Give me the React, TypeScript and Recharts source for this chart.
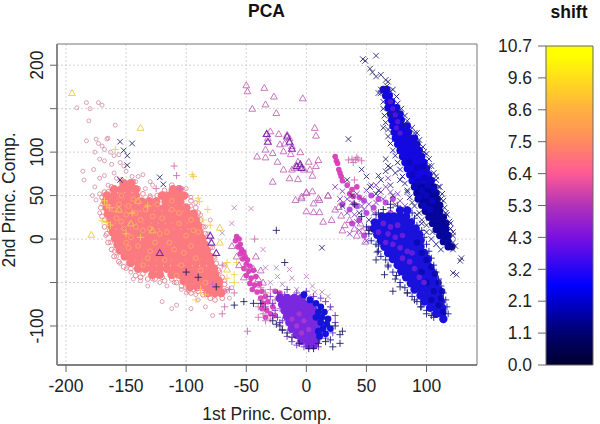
import { Bar, BarChart, CartesianGrid, ReferenceArea, Scatter, ScatterChart, XAxis, YAxis } from "recharts";

type Pair = [number, number];
type Row = [number, number[]];

const xTicks = [-200, -150, -100, -50, 0, 50, 100];
const yTicks = [-100, -50, 0, 50, 100, 150, 200];
const hiddenYLabels = [-50, 150];
const shiftTicks = [0, 1.07, 2.14, 3.21, 4.28, 5.35, 6.42, 7.49, 8.56, 9.63, 10.7];

// outliers and fringe of the big salmon cloud
const paleCircles: Pair[] = [
  [-191, 151], [-183, 157], [-180, 150], [-173, 157], [-170, 154], [-181, 136], [-159, 131], [-183, 113], [-175, 115], [-166, 115], [-165, 116],
  [-173, 110], [-170, 107], [-168, 103], [-176, 100], [-163, 100], [-160, 96], [-156, 97], [-172, 92], [-168, 90], [-162, 86], [-155, 88], [-152, 84],
  [-186, 78], [-177, 80], [-185, 68], [-172, 70], [-176, 60], [-168, 73], [-160, 76], [-150, 78], [-145, 72], [-142, 66], [-140, 72],
  [-175, 45], [-178, 50], [-172, 52], [-172, 30], [-168, 22], [-164, 10], [-167, 4], [-163, -4], [-160, -14], [-158, -20], [-155, -28], [-150, -34],
  [-146, -38], [-144, -46], [-138, -48], [-132, -54], [-128, -46], [-122, -50], [-116, -54], [-110, -50], [-104, -58], [-98, -60], [-92, -64], [-120, -72],
  [-112, -80], [-108, -76], [-96, -80], [-84, -78], [-78, -88], [-100, -62], [-90, -70], [-72, -62], [-66, -58], [-68, -48], [-72, -38], [-68, -30],
  [-76, -22], [-78, -10], [-82, 6], [-84, 14], [-92, 30], [-96, 38], [-118, 52], [-128, 62], [-134, 58], [-130, 50], [-136, 74], [-130, 66],
  [-100, 58], [-96, 48], [-92, 42], [-88, 28], [-80, 22], [-150, 64], [-158, 70], [-165, 62], [-170, 40], [-165, 55], [-74, -48], [-62, -56], [-64, -68],
];

const coreFringe: Pair[] = [
  [-170, 48], [-171, 36], [-170, 26], [-168, 14], [-166, 6], [-165, -4], [-162, -12], [-160, -20], [-156, -26], [-152, -32], [-146, -34], [-142, -42], [-136, -40],
  [-132, -46], [-126, -46], [-118, -48], [-112, -46], [-108, -50], [-104, -54], [-100, -56], [-96, -62], [-90, -60], [-86, -64], [-80, -68], [-76, -70], [-70, -68],
  [-68, -60], [-68, -52], [-70, -44], [-73, -36], [-75, -28], [-77, -20], [-80, -10], [-82, -2], [-84, 6], [-86, 14], [-88, 22], [-90, 30], [-92, 36], [-96, 44],
  [-100, 50], [-104, 58], [-112, 62], [-118, 56], [-124, 50], [-130, 48], [-136, 52], [-140, 58], [-144, 66], [-154, 68], [-162, 60], [-168, 54],
  [-158, -8], [-148, -28], [-138, -44], [-120, -44], [-94, -58], [-78, -62], [-74, -60], [-72, -54],
];

const coreRows: Row[] = [
  [64, [-152, -146]],
  [57, [-160, -154, -148, -142, -111, -106]],
  [50, [-166, -160, -154, -148, -142, -120, -114, -108, -102]],
  [43, [-167, -161, -155, -149, -143, -137, -131, -125, -117, -111, -105]],
  [36, [-166, -160, -154, -148, -142, -136, -130, -124, -118, -112, -106, -100]],
  [29, [-165, -159, -153, -147, -141, -135, -129, -123, -117, -111, -105, -99, -94]],
  [22, [-163, -157, -151, -145, -139, -133, -127, -121, -115, -109, -103, -97, -92]],
  [15, [-162, -156, -150, -144, -138, -132, -126, -120, -114, -108, -102, -96, -90]],
  [8, [-161, -155, -149, -143, -137, -131, -125, -119, -113, -107, -101, -95, -89]],
  [1, [-159, -153, -147, -141, -135, -129, -123, -117, -111, -105, -99, -93, -87]],
  [-6, [-157, -151, -145, -139, -133, -127, -121, -115, -109, -103, -97, -91, -85]],
  [-13, [-155, -149, -143, -137, -131, -125, -119, -113, -107, -101, -95, -89, -83]],
  [-20, [-151, -145, -139, -133, -127, -121, -115, -109, -103, -97, -91, -85, -81]],
  [-27, [-146, -140, -134, -128, -122, -116, -110, -104, -98, -92, -86, -80]],
  [-34, [-140, -134, -128, -122, -116, -110, -104, -98, -92, -86, -80, -77]],
  [-41, [-128, -122, -112, -106, -100, -94, -88, -82, -76]],
  [-48, [-102, -96, -90, -84, -78, -73]],
  [-55, [-97, -91, -85, -79, -73]],
  [-62, [-82, -76, -71]],
];

const orangeCircles: Pair[] = [
  [-156, 40], [-150, 28], [-144, 46], [-138, 22], [-152, 12], [-146, 2], [-134, 34], [-130, 12], [-140, -8], [-126, -4], [-120, 24], [-116, 8],
  [-112, 34], [-106, 18], [-100, 4], [-110, -12], [-96, -8], [-118, -24], [-104, -30], [-92, -22], [-88, -36], [-132, -22], [-148, -10], [-124, 40],
  [-142, 14], [-108, -42], [-96, 22], [-128, 26], [-158, 24], [-136, -30], [-84, -50], [-154, 50], [-112, 44], [-90, 8],
  [-160, 34], [-154, 20], [-148, 38], [-142, 30], [-136, 10], [-122, 6], [-114, -4], [-102, -16], [-94, 10], [-130, -14], [-150, -4], [-106, 30],
];

const yellowPlus: Pair[] = [
  [-159, 103], [-95, 74], [-94, 72], [-90, 47], [-89, 43], [-82, 34], [-86, 22], [-80, 16], [-66, -27], [-58, -27], [-60, -41], [-60, -50], [-66, -45],
  [-166, 39], [-168, 44], [-164, 36], [-166, 19], [-170, 21], [-163, 16], [-145, 30], [-132, 38], [-150, 6], [-138, 2], [-84, -64], [-92, -70], [-88, -58],
];

const yellowTriangles: Pair[] = [
  [-195, 168], [-179, 5], [-72, 13], [-72, -4], [-156, 34], [-140, 44], [-128, 10], [-146, 18], [-66, -35], [-138, 128],
];

const roseCrosses: Pair[] = [
  [-60, 36], [-46, 35], [-62, 18], [-70, 7], [-67, -60], [-36, -12], [-34, -33], [-25, -33], [-14, -35], [-24, -43], [-12, -45], [0, -43],
  [5, -54], [7, -61], [13, -61], [18, -66], [20, -80], [-30, -50], [-20, -52], [-8, -58], [2, -66],
];

const rosePlus: Pair[] = [
  [-110, 84], [-108, 73], [-125, 58], [-105, 58], [-70, -30], [-78, -52], [-50, -34], [-43, 0], [-49, -106], [-60, -62], [-64, -58], [-68, -78], [-70, -86],
  [35, 91], [38, 92], [41, 91], [43, 92], [46, 90], [39, 88], [42, 94], [40, 68],
  [-38, -56], [-34, -62], [-30, -58], [-38, -70], [-40, -78], [-36, -86], [-30, -92], [-26, -70], [-22, -80], [-40, -90], [-34, -94],
];

const navyCrosses: Pair[] = [
  [-155, 112], [-145, 110], [-152, 102], [-149, 96], [-149, 85], [-155, 68], [-122, 71], [-119, 63], [13, -10],
  [47, 207], [49, 205], [58, 211], [53, 196], [55, 192], [58, 187], [62, 189], [66, 183], [68, 181], [60, 168], [62, 172], [70, 170], [67, 176], [76, 146], [70, 143],
  [64, 128], [82, 132], [86, 120], [92, 110], [66, 92], [70, 82], [74, 76], [78, 68], [84, 54], [88, 42], [94, 30], [112, 46], [116, 30], [120, 18], [122, 8],
  [124, -8], [122, -12], [128, -25], [129, -22], [122, -39], [125, -41], [105, 8], [100, 16], [96, 22], [110, 60], [108, 72], [102, 84], [98, 100], [92, 122],
  [53, 60], [58, 52], [62, 68], [70, 62], [50, 72], [46, 80], [38, 50], [30, 38], [44, 30], [52, 22], [60, 56], [72, 50],
  [35, 115], [34, 68], [60, 73], [66, 78], [68, 84],
];

const streakEdge: Pair[] = [
  [62, 168], [64, 158], [64, 150], [65, 142], [66, 134], [68, 126], [68, 118], [70, 110], [72, 102], [74, 96], [76, 88], [78, 80], [80, 72], [82, 64], [84, 56], [86, 48],
  [90, 38], [92, 28], [96, 18], [100, 8], [104, 0], [108, -6], [112, -12], [72, 172], [75, 164], [76, 156], [79, 150], [82, 142], [84, 136], [88, 128], [90, 122], [94, 114],
  [97, 106], [100, 98], [102, 92], [104, 84], [106, 76], [108, 68], [111, 60], [113, 52], [114, 44], [115, 36], [117, 28], [119, 20], [120, 12], [122, 4], [122, -4],
];

const lowerEdge: Pair[] = [
  [50, 14], [52, 6], [54, -2], [58, -6], [60, -14], [62, -20], [66, -24], [68, -32], [72, -38], [74, -46], [78, -50], [82, -56], [84, -62], [88, -66], [92, -72], [96, -78], [100, -82],
  [104, -88], [90, 24], [92, 16], [96, 10], [98, 2], [100, -6], [102, -14], [104, -22], [106, -30], [108, -38], [110, -46], [112, -54], [114, -62], [116, -70], [117, -78], [118, -86],
  [58, 28], [64, 34], [70, 36], [76, 38], [84, 34], [88, 30],
];

const midCrosses: Pair[] = [
  [30, 55], [34, 46], [38, 42], [42, 52], [46, 46], [50, 56], [54, 62], [58, 42], [62, 54], [66, 60], [70, 54], [74, 40], [34, 30], [40, 28], [46, 38], [52, 40], [56, 30],
  [44, 10], [50, -2], [56, 8], [36, 6], [48, 34], [64, 46], [76, 52], [28, 46], [42, 20], [58, 62], [68, 70], [78, 44], [24, 60], [82, 38],
];

const bottomFringe: Pair[] = [
  [-30, -66], [-28, -74], [-26, -82], [-24, -90], [-22, -96], [-20, -104], [-16, -112], [-12, -118], [-8, -122], [-2, -124], [-24, -62], [-16, -58], [-8, -62], [0, -60],
  [6, -66], [12, -68], [16, -72], [20, -78], [24, -88], [24, -96], [22, -108], [16, -114], [10, -124], [-18, -64], [-10, -68], [-34, -78], [-28, -88], [-20, -94],
];

const navyPlus: Pair[] = [
  [-25, 10], [-18, -27], [-75, -55], [-90, -44], [-100, -38], [-52, -72], [-44, -74], [-60, -76], [-38, -74],
  [28, -110], [20, -116], [22, -124], [28, -120], [30, -106], [10, -120], [6, -126], [2, -126], [24, -100], [16, -118],
  [-12, -113], [-22, -100], [-20, -105], [-28, -94], [-25, -98], [-16, -108], [-6, -120],
  [59, -15], [58, -24], [65, -41], [72, -60], [78, -55], [75, -42], [60, -8], [68, -30], [84, -62], [90, -70], [95, -78], [100, -86], [106, -90],
  [60, 30], [40, 40], [46, 26], [52, 10], [70, 40],
];

const lightTriangles: Pair[] = [
  [-50, 177], [-49, 170], [-45, 150], [-41, 95], [-35, 174], [-27, 164], [-34, 155], [-3, 162], [-25, 145], [7, 128], [8, 119], [-30, 124], [-23, 121],
  [-33, 121], [-32, 116], [-16, 120], [-14, 116], [-22, 109], [-18, 110], [-12, 107], [-34, 103], [-28, 99], [-19, 101], [-13, 98], [-5, 100], [-34, 94],
  [-24, 89], [-19, 80], [-12, 80], [-10, 82], [-7, 89], [-2, 80], [3, 80], [-28, 66], [-14, 70], [-7, 69], [5, 73], [10, 91], [8, 84], [2, 89],
  [0, 53], [5, 55], [-4, 49], [10, 47], [18, 50], [-9, 45], [-4, 47], [0, 54], [6, 41], [11, 45], [0, 32], [6, 31], [11, 31], [18, 50], [14, 20],
  [21, 22], [29, 27], [27, 37], [32, 16], [49, -3], [45, 18], [47, 9], [40, 12], [36, 22], [42, 4], [24, 34], [30, 10],
  [-62, -8], [-58, -20], [-56, -30], [-42, -20], [-44, -34], [-40, -46], [-36, -50], [-52, -44], [-38, -36],
];

const darkTriangles: Pair[] = [
  [-80, 4], [-79, -4], [-75, -16], [-122, -16], [-33, 121], [-32, 112], [-16, 118], [-14, 112], [-12, 104], [-5, 86], [-4, 82], [-8, 84],
];

const magentaBand: Pair[] = [
  [-58, 3], [-56, 0], [-59, -2], [-55, -6], [-57, -9], [-54, -12], [-52, -15], [-55, -17], [-51, -20], [-53, -23], [-49, -24], [-50, -29], [-47, -31],
  [-52, -34], [-48, -37], [-44, -36], [-50, -42], [-46, -45], [-42, -43], [-47, -51], [-43, -53], [-39, -52], [-45, -58], [-41, -61], [-37, -60],
  [-38, -68], [-34, -66], [-36, -74], [-32, -72], [-37, -80], [-33, -82], [-28, -78], [-30, -86], [-26, -88], [-34, -90], [-22, -62], [-26, -60],
  [24, 95], [25, 90], [26, 87], [27, 80], [28, 76], [29, 72], [30, 67], [34, 62], [38, 57], [42, 60], [39, 49], [36, 52], [44, 48], [40, 40],
];

const bottomRows: Row[] = [
  [-68, [-22, -16, -10, -4]],
  [-75, [-20, -14, -8, -2, 4]],
  [-82, [-18, -12, -6, 0, 6]],
  [-89, [-16, -10, -4, 2, 8]],
  [-96, [-14, -8, -2, 4, 10]],
  [-103, [-12, -6, 0, 6, 12]],
  [-110, [-8, -2, 4, 10]],
  [-117, [-4, 2, 8]],
  [-122, [2, 6]],
];

const bottomBlue: Pair[] = [
  [8, -74], [12, -78], [15, -84], [10, -84], [8, -90], [13, -90], [18, -92], [12, -96], [17, -98], [20, -103], [14, -103], [10, -106], [16, -109], [11, -112], [3, -70], [-2, -64],
];

const bottomPink: Pair[] = [
  [-8, -100], [-4, -108], [-12, -92], [-2, -94], [-6, -86], [2, -104],
];

const lowerMagenta: Pair[] = [
  [30, 40], [36, 34], [42, 38], [48, 44], [54, 50], [60, 46], [66, 42], [72, 46], [50, 30], [44, 22], [38, 18], [56, 36], [70, 30], [62, 24], [52, 12],
  [58, 18], [48, 4], [74, 20], [82, 26], [66, 10], [76, 6], [84, 12],
];

const lowerRows: Row[] = [
  [33, [78, 84]],
  [26, [63, 68, 73, 78, 83]],
  [19, [57, 62, 67, 72, 77, 82, 87]],
  [12, [56, 61, 66, 71, 76, 81, 86, 91]],
  [5, [59, 64, 69, 74, 79, 84, 89, 94]],
  [-2, [62, 67, 72, 77, 82, 87, 92, 95]],
  [-9, [65, 70, 75, 80, 85, 90, 95]],
  [-16, [68, 73, 78, 83, 88, 93, 98]],
  [-23, [72, 77, 82, 87, 92, 97, 101]],
  [-30, [76, 81, 86, 91, 96, 101]],
  [-37, [79, 84, 89, 94, 99, 104]],
  [-44, [83, 88, 93, 98, 103, 106]],
  [-51, [87, 92, 97, 102, 107]],
  [-58, [90, 95, 100, 105, 110]],
  [-65, [95, 100, 105, 110]],
  [-72, [98, 103, 108, 112]],
  [-79, [103, 108, 113]],
  [-86, [108, 113]],
  [-92, [114]],
];

const lowerViolet: Pair[] = [
  [64, 18], [70, 14], [76, 16], [68, 6], [74, 2], [80, 4], [72, -6], [78, -10], [84, -14], [80, -22], [86, -26], [90, -34], [94, -44], [98, -50], [88, -16], [66, -4], [60, 8],
];

const lowerNavy: Pair[] = [
  [96, -16], [100, -24], [104, -32], [107, -40], [110, -50], [113, -60], [112, -68], [110, -76], [114, -84], [104, -70], [106, -60], [100, -50], [96, -38], [92, -4],
];

const streakBlueRows: Row[] = [
  [172, [64, 67]],
  [165, [66, 69]],
  [158, [68, 71]],
  [151, [68, 72, 75]],
  [144, [70, 74, 78]],
  [137, [71, 75, 79]],
  [130, [72, 76, 80, 84]],
  [123, [73, 77, 81, 85]],
  [116, [74, 78, 82, 86, 90]],
  [109, [76, 80, 84, 88, 92]],
  [102, [78, 82, 86, 90, 94]],
  [95, [80, 84, 88, 92, 96]],
  [88, [82, 86, 90, 94, 98]],
  [81, [84, 88, 92, 96, 100]],
  [74, [86, 90, 94, 98, 102]],
  [67, [88, 92, 96, 100, 104]],
];

const streakNavyRows: Row[] = [
  [60, [90, 94, 98, 102, 106]],
  [53, [92, 96, 100, 104, 108]],
  [46, [93, 97, 101, 105, 109]],
  [39, [96, 100, 104, 108, 111]],
  [32, [99, 103, 107, 111]],
  [25, [102, 106, 110, 114]],
  [18, [105, 109, 113, 116]],
  [11, [108, 112, 116]],
  [4, [111, 115, 118]],
  [-3, [114, 118]],
  [-9, [118, 121]],
];

const streakMid: Pair[] = [
  [88, 74], [93, 66], [98, 70], [103, 68], [90, 60], [96, 56], [101, 62], [106, 58], [94, 48], [100, 50], [105, 44], [92, 82], [97, 84], [86, 88], [98, 38], [103, 34],
];

const streakViolet: Pair[] = [
  [70, 158], [72, 150], [74, 143], [76, 135], [75, 128], [78, 122],
];

const fromRows = (rows: Row[]): Pair[] => rows.flatMap(([y, xs]) => xs.map((x): Pair => [x, y]));

type MarkKind = "circle" | "blob" | "triangle" | "plus" | "cross";

const seriesList: { name: string; points: Pair[]; mark: MarkKind; color: string; size: number; weight: number; alpha: number }[] = [
  { name: "fringe", points: paleCircles, mark: "circle", color: "#d0809c", size: 2, weight: 0.9, alpha: 0.8 },
  { name: "coreFringe", points: coreFringe, mark: "circle", color: "#e8808c", size: 2.4, weight: 1, alpha: 0.9 },
  { name: "core", points: fromRows(coreRows), mark: "blob", color: "#fb7a80", size: 4.4, weight: 0, alpha: 1 },
  { name: "orange", points: orangeCircles, mark: "circle", color: "#ffa468", size: 2.4, weight: 1, alpha: 0.9 },
  { name: "yellowPlus", points: yellowPlus, mark: "plus", color: "#f5cf50", size: 3.6, weight: 1, alpha: 0.9 },
  { name: "yellowTri", points: yellowTriangles, mark: "triangle", color: "#eec84c", size: 3.4, weight: 0.9, alpha: 1 },
  { name: "lightTri", points: lightTriangles, mark: "triangle", color: "#c060b8", size: 3.4, weight: 0.9, alpha: 0.95 },
  { name: "darkTri", points: darkTriangles, mark: "triangle", color: "#8028b0", size: 3.4, weight: 1.1, alpha: 1 },
  { name: "band", points: magentaBand, mark: "blob", color: "#d83cb8", size: 2.8, weight: 0, alpha: 0.95 },
  { name: "roseCross", points: roseCrosses, mark: "cross", color: "#c078c0", size: 2.6, weight: 0.9, alpha: 0.9 },
  { name: "rosePlus", points: rosePlus, mark: "plus", color: "#d070b0", size: 3.6, weight: 1, alpha: 0.9 },
  { name: "midCross", points: midCrosses, mark: "cross", color: "#8838c4", size: 2.8, weight: 1, alpha: 0.9 },
  { name: "bottomFringe", points: bottomFringe, mark: "plus", color: "#7030c0", size: 3.4, weight: 1, alpha: 0.9 },
  { name: "bottom", points: fromRows(bottomRows), mark: "blob", color: "#7a28e0", size: 4.4, weight: 0, alpha: 1 },
  { name: "bottomPink", points: bottomPink, mark: "blob", color: "#a838d0", size: 2.6, weight: 0, alpha: 0.9 },
  { name: "bottomBlue", points: bottomBlue, mark: "blob", color: "#1414d8", size: 3.4, weight: 0, alpha: 1 },
  { name: "lowerMagenta", points: lowerMagenta, mark: "blob", color: "#b030d8", size: 3, weight: 0, alpha: 0.85 },
  { name: "lowerEdge", points: lowerEdge, mark: "plus", color: "#1a1a9c", size: 3.4, weight: 1, alpha: 0.9 },
  { name: "lower", points: fromRows(lowerRows), mark: "blob", color: "#1a12dc", size: 4.2, weight: 0, alpha: 1 },
  { name: "lowerNavy", points: lowerNavy, mark: "blob", color: "#0a0ab0", size: 3.2, weight: 0, alpha: 0.9 },
  { name: "lowerViolet", points: lowerViolet, mark: "blob", color: "#6a20dc", size: 2.8, weight: 0, alpha: 0.9 },
  { name: "streakEdge", points: streakEdge, mark: "cross", color: "#16168c", size: 2.8, weight: 1, alpha: 0.9 },
  { name: "streakBlue", points: fromRows(streakBlueRows), mark: "blob", color: "#1408e0", size: 3.7, weight: 0, alpha: 1 },
  { name: "streakNavy", points: fromRows(streakNavyRows), mark: "blob", color: "#06069c", size: 3.7, weight: 0, alpha: 1 },
  { name: "streakMid", points: streakMid, mark: "blob", color: "#0c08c0", size: 3.4, weight: 0, alpha: 0.9 },
  { name: "streakViolet", points: streakViolet, mark: "blob", color: "#5a18d8", size: 2.6, weight: 0, alpha: 0.9 },
  { name: "navyCross", points: navyCrosses, mark: "cross", color: "#20206c", size: 2.8, weight: 1, alpha: 0.85 },
  { name: "navyPlus", points: navyPlus, mark: "plus", color: "#20206c", size: 3.6, weight: 1, alpha: 0.9 },
];

function drawMark(cx: number, cy: number, s: (typeof seriesList)[number]) {
  const r = s.size;
  const line = { stroke: s.color, strokeWidth: s.weight, strokeOpacity: s.alpha, fill: "none" };
  if (s.mark === "blob") return <circle cx={cx} cy={cy} r={r} fill={s.color} fillOpacity={s.alpha} />;
  if (s.mark === "circle") return <circle cx={cx} cy={cy} r={r} {...line} />;
  if (s.mark === "triangle")
    return <path d={`M${cx} ${cy - r}L${cx + r} ${cy + r * 0.75}L${cx - r} ${cy + r * 0.75}Z`} {...line} />;
  if (s.mark === "plus") return <path d={`M${cx - r} ${cy}H${cx + r}M${cx} ${cy - r}V${cy + r}`} {...line} />;
  return <path d={`M${cx - r} ${cy - r}L${cx + r} ${cy + r}M${cx - r} ${cy + r}L${cx + r} ${cy - r}`} {...line} />;
}

const font = "'Liberation Sans', Arial, sans-serif";
const labelColor = "#222";
const fontSize = 17.5;

function YTick({ x, y, payload }: any) {
  if (hiddenYLabels.includes(payload.value)) return null;
  return (
    <text x={x} y={y} transform={`rotate(-90 ${x} ${y})`} textAnchor="middle" fontSize={fontSize} fontFamily={font} fill={labelColor}>
      {payload.value}
    </text>
  );
}

export default function App() {
  return (
    <div style={{ position: "absolute", left: 0, top: 0, width: 600, height: 424, overflow: "hidden", background: "#fff" }}>
      <div style={{ position: "absolute", left: 0, top: 0 }}>
        <ScatterChart width={490} height={424} margin={{ top: 44, right: 13, bottom: 0, left: 0 }}>
          <CartesianGrid horizontalValues={yTicks} verticalValues={xTicks} stroke="#d4d4d4" strokeDasharray="2 2" />
          <XAxis
            type="number"
            dataKey="x"
            domain={[-207.5, 142]}
            ticks={xTicks}
            allowDataOverflow
            interval={0}
            height={59}
            tickSize={7}
            tickMargin={8}
            axisLine={{ stroke: "#444" }}
            tickLine={{ stroke: "#666" }}
            tick={{ fontSize, fontFamily: font, fill: labelColor }}
            label={{ value: "1st Princ. Comp.", position: "insideBottom", offset: 4, fontSize, fontFamily: font, fill: labelColor }}
          />
          <YAxis
            type="number"
            dataKey="y"
            domain={[-144.9, 224.4]}
            ticks={yTicks}
            allowDataOverflow
            interval={0}
            width={57}
            tickSize={7}
            tickMargin={7}
            axisLine={{ stroke: "#888", strokeWidth: 2 }}
            tickLine={{ stroke: "#666" }}
            tick={<YTick />}
          />
          {seriesList.map((s) => (
            <Scatter
              key={s.name}
              name={s.name}
              data={s.points.map(([x, y]) => ({ x, y }))}
              isAnimationActive={false}
              shape={(p: any) => drawMark(p.cx, p.cy, s)}
            />
          ))}
          <ReferenceArea x1={-207.5} x2={142} y1={-144.9} y2={224.4} fill="none" stroke="#777" strokeWidth={1} />
        </ScatterChart>
      </div>
      <div style={{ position: "absolute", left: 490, top: 0 }}>
        <BarChart width={110} height={424} data={[{ name: "shift", top: 10.7 }]} margin={{ top: 46, right: 7, bottom: 59, left: 0 }} barCategoryGap={0}>
          <defs>
            <linearGradient id="shiftGradient" x1="0" y1="0" x2="0" y2="1">
              <stop offset="0" stopColor="#ffff00" />
              <stop offset="0.03" stopColor="#ffff00" />
              <stop offset="0.2" stopColor="#ffb040" />
              <stop offset="0.3" stopColor="#ff8a60" />
              <stop offset="0.4" stopColor="#ff5a96" />
              <stop offset="0.5" stopColor="#b033b8" />
              <stop offset="0.6" stopColor="#7a10e0" />
              <stop offset="0.75" stopColor="#0000ff" />
              <stop offset="0.9" stopColor="#000070" />
              <stop offset="1" stopColor="#000030" />
            </linearGradient>
          </defs>
          <XAxis dataKey="name" hide />
          <YAxis
            type="number"
            domain={[0, 10.7]}
            ticks={shiftTicks}
            interval={0}
            width={56}
            tickSize={8}
            tickMargin={6}
            axisLine={false}
            tickLine={{ stroke: "#666" }}
            tickFormatter={(v: number) => v.toFixed(1)}
            tick={{ fontSize, fontFamily: font, fill: labelColor }}
          />
          <Bar dataKey="top" fill="url(#shiftGradient)" stroke="#666" isAnimationActive={false} />
        </BarChart>
      </div>
      {/* titles and the rotated y label sit outside the two chart frames */}
      <svg width={600} height={424} style={{ position: "absolute", left: 0, top: 0, pointerEvents: "none" }}>
        <text x={266.5} y={17} textAnchor="middle" fontSize={fontSize} fontWeight="bold" fontFamily={font} fill="#111">PCA</text>
        <text x={569} y={18} textAnchor="middle" fontSize={fontSize} fontWeight="bold" fontFamily={font} fill="#111">shift</text>
        <text x={15} y={200} transform="rotate(-90 15 200)" textAnchor="middle" fontSize={fontSize} fontFamily={font} fill={labelColor}>2nd Princ. Comp.</text>
      </svg>
    </div>
  );
}
